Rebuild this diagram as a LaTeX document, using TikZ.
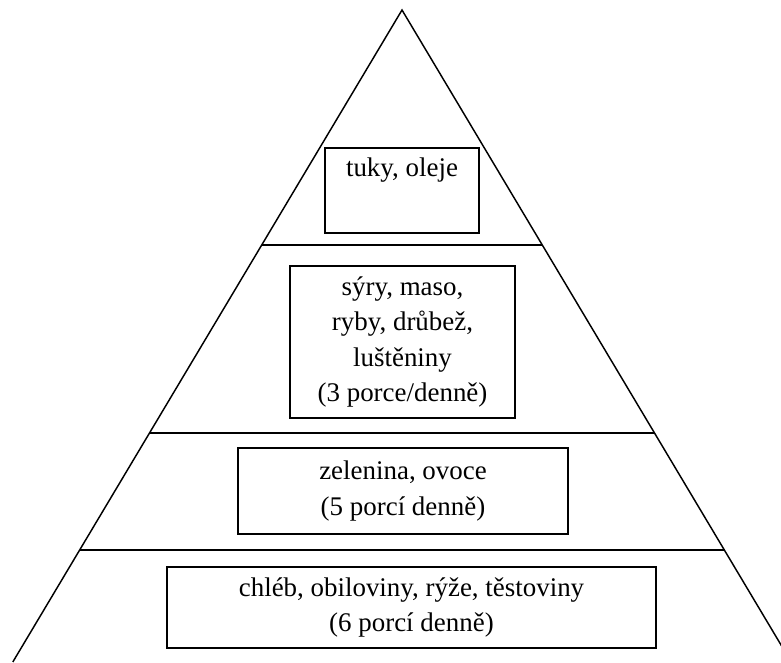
\documentclass[tikz,border=0pt]{standalone}
\usepackage{fontspec}
\setmainfont{Liberation Serif}
\usepackage{tikz}
\usetikzlibrary{calc}

\begin{document}
\begin{tikzpicture}[x=0.75pt, y=-0.75pt,
    level/.style={draw, line width=1.5pt, inner sep=0pt, align=center,
      font=\fontsize{20.2}{26.5}\selectfont},
    edge/.style={line width=1.1pt}]
  \clip (0,0) rectangle (781,662);
  % pyramid outline
  \coordinate (top) at (402,10);
  \coordinate (bl) at (12.8,662);
  \coordinate (br) at (791.2,662);
  \draw[edge] (bl) -- (top) -- (br);
  % dividing lines
  \foreach \f in {0.3604, 0.6488, 0.8282}
    \draw[edge, line width=1.5pt] ($(top)!\f!(bl)$) -- ($(top)!\f!(br)$);
  % boxes
  \node[level, minimum width=115.5pt, minimum height=63.75pt] (fats) at (402,190.5)
    {tuky, oleje\\\strut};
  \node[level, minimum width=168.75pt, minimum height=114pt] (meat) at (402.5,342)
    {sýry, maso,\\ryby, drůbež,\\luštěniny\\(3 porce/denně)};
  \node[level, minimum width=247.5pt, minimum height=64.5pt] (veg) at (403,491)
    {zelenina, ovoce\\(5 porcí denně)};
  \node[level, minimum width=366.75pt, minimum height=60.75pt] (grain) at (411.5,607.5)
    {chléb, obiloviny, rýže, těstoviny\\(6 porcí denně)};
\end{tikzpicture}
\end{document}
